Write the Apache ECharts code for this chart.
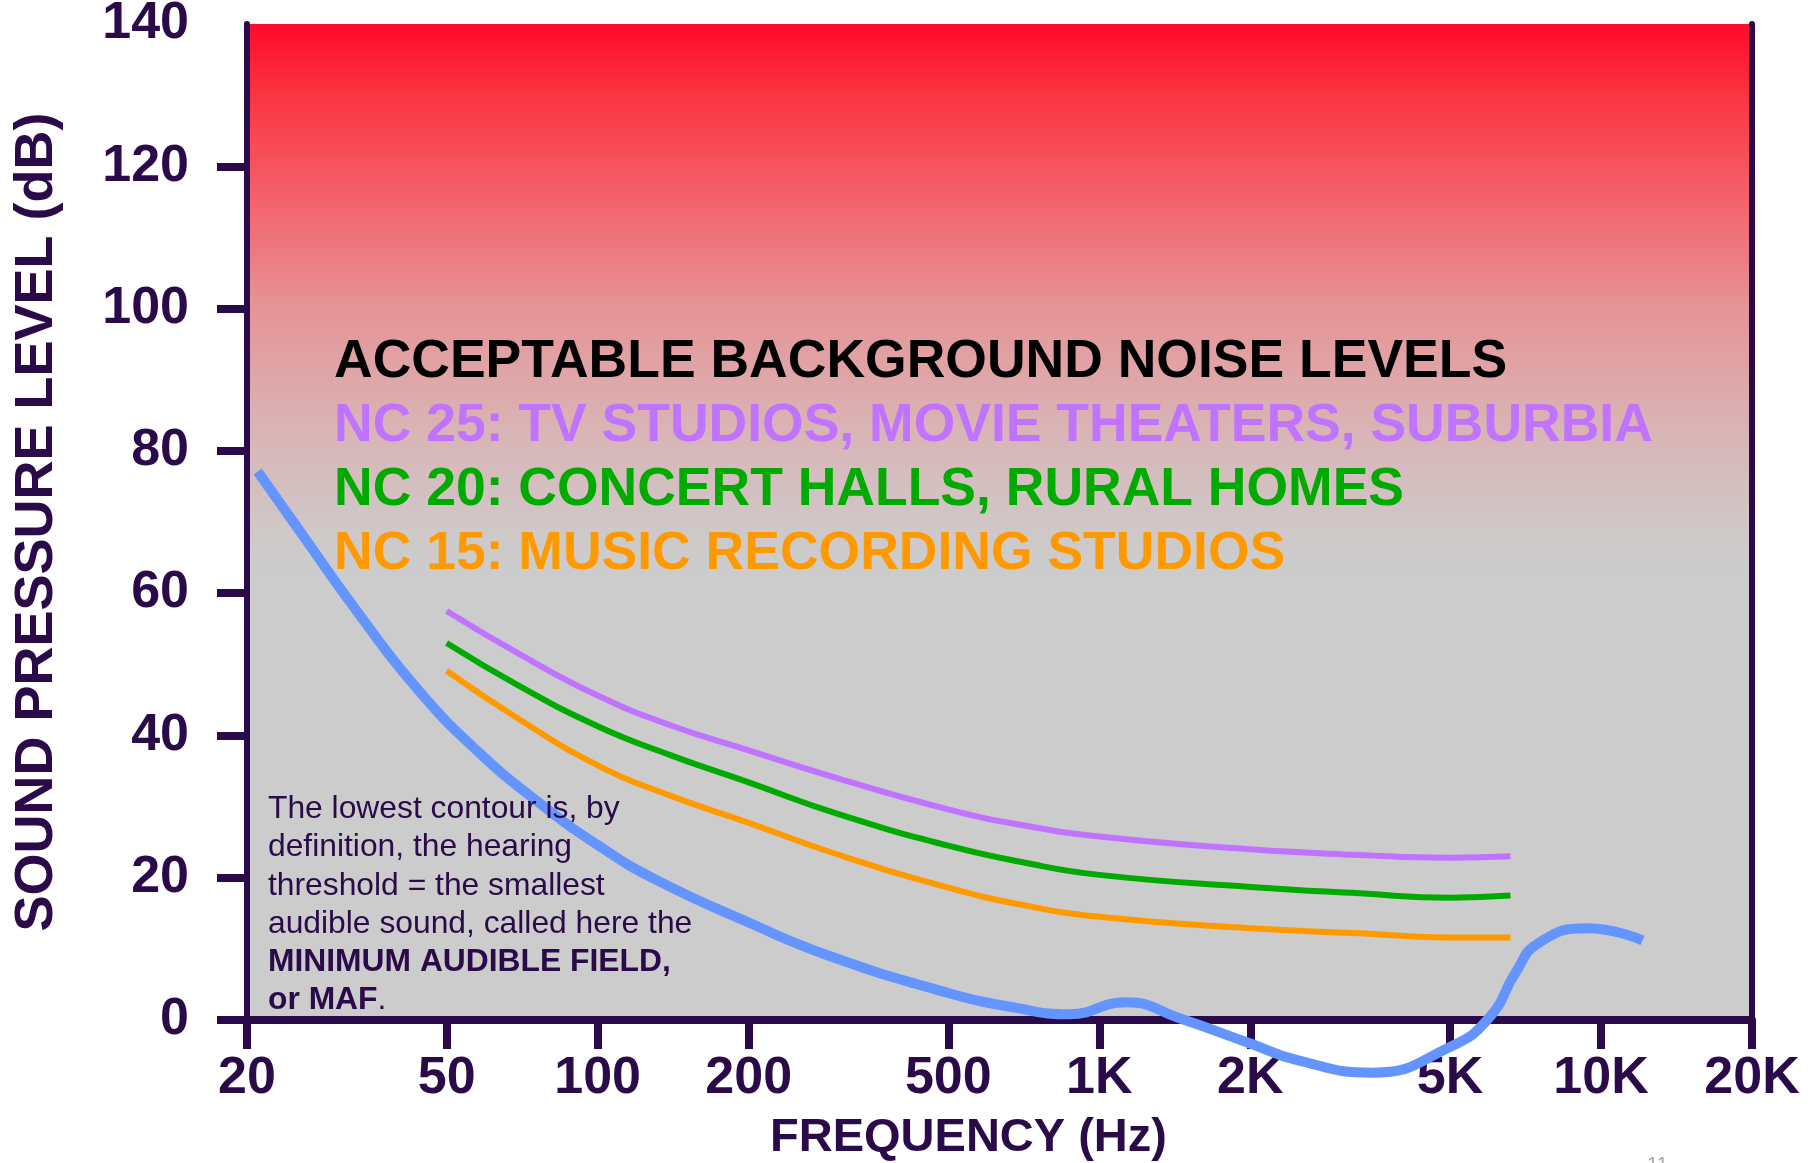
<!DOCTYPE html>
<html>
<head>
<meta charset="utf-8">
<title>Acceptable background noise levels</title>
<script src="https://cdn.jsdelivr.net/npm/echarts@6/dist/echarts.min.js"></script>
<style>
html, body { margin: 0; padding: 0; background: #fff; }
#showChart { width: 1818px; height: 1163px; }
</style>
</head>
<body>
<div id="showChart"></div>
<script>
// axis ticks
var freqTicks = [20, 50, 100, 200, 500, 1000, 2000, 5000, 10000, 20000];
var freqTickLabels = ['20', '50', '100', '200', '500', '1K', '2K', '5K', '10K', '20K'];
var dbTicks = [0, 20, 40, 60, 80, 100, 120];

// NC curves (Hz / dB)
var ncFreq = [50, 70, 100, 140, 200, 300, 500, 700, 1000, 2000, 3300, 5000, 6600];
var nc25 = [57.5, 51.4, 45.6, 41.4, 37.9, 34.0, 29.6, 27.4, 25.8, 24.0, 23.2, 22.8, 23.0];
var nc20 = [53.0, 46.9, 41.3, 37.2, 33.4, 29.0, 24.5, 22.2, 20.4, 18.7, 17.8, 17.2, 17.5];
var nc15 = [49.1, 42.2, 35.8, 31.5, 27.7, 23.3, 18.6, 16.2, 14.5, 12.9, 12.2, 11.6, 11.6];

// minimum audible field
var mafFreq = [21, 25.5, 33.4, 44, 58, 77.5, 100, 130, 200, 290, 500, 683, 870, 1130, 1450, 2000, 2470, 3500, 5000, 6000, 6750, 7500, 9400, 12100];
var maf = [77.1, 68.7, 57.1, 46.3, 37.6, 30.2, 24.6, 19.8, 13.7, 9.0, 3.8, 1.7, 0.8, 2.5, 0.2, -3.3, -5.6, -7.4, -3.8, 0.4, 6.6, 10.8, 12.9, 11.2];

var ink = '#2a0a48';
var font = '"Liberation Sans", Arial, sans-serif';

// frequency goes on a log10 value axis
function toPoints(f, v) {
    return f.map(function (x, i) { return [Math.log10(x), v[i]]; });
}
var freqTickLog = freqTicks.map(function (f) { return Math.log10(f); });

function freqLabel(val) {
    for (var i = 0; i < freqTickLog.length; i++) {
        if (Math.abs(freqTickLog[i] - val) < 1e-6) return freqTickLabels[i];
    }
    return '';
}

function lineSeries(name, data, color, width) {
    return {
        name: name,
        type: 'line',
        data: data,
        smooth: 0.5,
        showSymbol: false,
        clip: false,
        lineStyle: { color: color, width: width, cap: 'butt' },
        silent: true
    };
}

var myChart = echarts.init(document.getElementById('showChart'));

var option = {
    animation: false,
    backgroundColor: '#ffffff',
    grid: {
        left: 247,
        right: 66,
        top: 24,
        bottom: 143,
        outerBoundsMode: 'none',
        containLabel: false,
        show: true,
        borderWidth: 0,
        backgroundColor: new echarts.graphic.LinearGradient(0, 0, 0, 1, [
            { offset: 0, color: '#ff0a2a' },
            { offset: 0.07, color: '#fa3440' },
            { offset: 0.171, color: '#f4606a' },
            { offset: 0.286, color: '#e69496' },
            { offset: 0.4, color: '#dab2b4' },
            { offset: 0.514, color: '#cfc9c9' },
            { offset: 0.55, color: '#cccccc' },
            { offset: 1, color: '#cccccc' }
        ])
    },
    xAxis: [{
        type: 'value',
        min: freqTickLog[0],
        max: freqTickLog[freqTickLog.length - 1],
        name: 'FREQUENCY (Hz)',
        nameLocation: 'middle',
        nameGap: 95,
        nameTextStyle: { color: ink, fontSize: 47, fontWeight: 'bold', fontFamily: font, padding: [0, 62, 0, 0] },
        splitLine: { show: false },
        axisLine: { show: true, onZero: false, lineStyle: { color: ink, width: 8 } },
        axisTick: { show: true, length: 29, customValues: freqTickLog, lineStyle: { color: ink, width: 8 } },
        axisLabel: {
            customValues: freqTickLog,
            formatter: freqLabel,
            color: ink, fontSize: 52, fontWeight: 'bold', fontFamily: font, margin: 33
        }
    }, {
        type: 'value',
        position: 'top',
        splitLine: { show: false },
        axisLine: { show: true, lineStyle: { color: ink, width: 3 } },
        axisTick: { show: false },
        axisLabel: { show: false }
    }],
    yAxis: [{
        type: 'value',
        min: 0,
        max: 140,
        interval: 20,
        name: 'SOUND PRESSURE LEVEL (dB)',
        nameLocation: 'middle',
        nameGap: 183,
        nameTextStyle: { color: ink, fontSize: 54, fontWeight: 'bold', fontFamily: font },
        splitLine: { show: false },
        axisLine: { show: true, lineStyle: { color: ink, width: 6 } },
        axisTick: { show: true, length: 30, customValues: dbTicks, lineStyle: { color: ink, width: 8 } },
        axisLabel: { color: ink, fontSize: 52, fontWeight: 'bold', fontFamily: font, margin: 58, padding: [9, 0, 0, 0] }
    }, {
        type: 'value',
        position: 'right',
        splitLine: { show: false },
        axisLine: { show: true, lineStyle: { color: ink, width: 6 } },
        axisTick: { show: false },
        axisLabel: { show: false }
    }],
    series: [
        lineSeries('NC 25', toPoints(ncFreq, nc25), '#bf73ff', 6),
        lineSeries('NC 20', toPoints(ncFreq, nc20), '#00aa00', 6),
        lineSeries('NC 15', toPoints(ncFreq, nc15), '#ff9900', 6),
        lineSeries('MAF', toPoints(mafFreq, maf), '#6494ff', 10)
    ],
    graphic: [
        { type: 'text', x: 334, y: 362, z: 10, style: { text: 'ACCEPTABLE BACKGROUND NOISE LEVELS', fill: '#000000', font: 'bold 53.5px ' + font, verticalAlign: 'middle' } },
        { type: 'text', x: 334, y: 426, z: 10, style: { text: 'NC 25: TV STUDIOS, MOVIE THEATERS, SUBURBIA', fill: '#bf73ff', font: 'bold 53.5px ' + font, verticalAlign: 'middle' } },
        { type: 'text', x: 334, y: 490, z: 10, style: { text: 'NC 20: CONCERT HALLS, RURAL HOMES', fill: '#00aa00', font: 'bold 53.5px ' + font, verticalAlign: 'middle' } },
        { type: 'text', x: 334, y: 554, z: 10, style: { text: 'NC 15: MUSIC RECORDING STUDIOS', fill: '#ff9900', font: 'bold 53.5px ' + font, verticalAlign: 'middle' } },
        {
            type: 'text', x: 268, y: 790, z: 10,
            style: {
                text: 'The lowest contour is, by\ndefinition, the hearing\nthreshold = the smallest\naudible sound, called here the\n{b|MINIMUM AUDIBLE FIELD,}\n{b|or MAF}.',
                fill: ink,
                font: '31.8px ' + font,
                lineHeight: 38.3,
                verticalAlign: 'top',
                rich: {
                    b: { fontWeight: 'bold', fontSize: 31.8, fontFamily: font, fill: ink, lineHeight: 38.3 }
                }
            }
        },
        { type: 'text', x: 1647, y: 1155, z: 10, style: { text: '11', fill: '#a8a8a8', font: '20px ' + font } }
    ]
};

myChart.setOption(option);
</script>
</body>
</html>
